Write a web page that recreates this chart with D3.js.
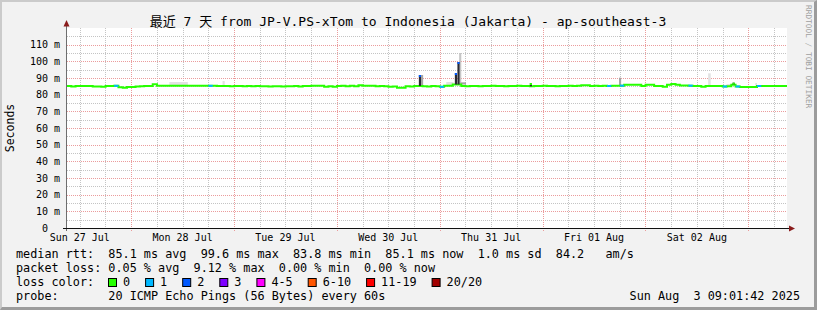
<!DOCTYPE html>
<html>
<head>
<meta charset="utf-8">
<script src="https://cdn.jsdelivr.net/npm/d3@7"></script>
<style>
  body { margin: 0; background: #fff; }
  svg text { font-family: "DejaVu Sans Mono", "Noto Sans CJK SC", monospace; }
</style>
</head>
<body>
<svg id="chart" width="817" height="310"></svg>
<script>
// --- data ------------------------------------------------------------
var startTime = Date.UTC(2025, 6, 27, 9, 1, 42);   // one week before the stamp
var endTime = Date.UTC(2025, 7, 3, 9, 1, 42);

// hourly median rtt (ms), hour 0 .. 168
var medianRtt = [
  85.2, 84.9, 85.2, 85.2, 85.2, 85.2, 84.9, 84.9, 84.7, 85.2,
  85.2, 85.3, 84.4, 84.2, 84.6, 84.6, 84.9, 85.0, 85.2, 85.2,
  86.2, 85.3, 85.3, 85.3, 85.4, 85.4, 85.4, 85.4, 85.4, 85.4,
  85.4, 85.3, 85.3, 85.3, 85.3, 85.2, 85.2, 85.2, 85.1, 85.2,
  85.2, 85.1, 85.2, 85.1, 85.2, 85.0, 85.0, 84.9, 85.0, 85.0,
  84.9, 85.0, 85.0, 85.2, 84.9, 85.2, 85.2, 85.3, 85.3, 85.3,
  84.7, 85.0, 84.7, 85.2, 85.3, 85.0, 85.3, 85.0, 85.7, 85.3,
  85.3, 85.3, 85.0, 85.2, 85.0, 84.7, 84.9, 84.2, 84.2, 85.0,
  84.9, 85.2, 85.2, 85.0, 84.9, 85.2, 85.0, 84.7, 85.3, 85.3,
  86.1, 86.1, 85.2, 85.0, 85.2, 85.2, 85.1, 85.2, 85.2, 85.3,
  85.2, 85.2, 85.1, 85.2, 85.2, 85.3, 85.2, 85.2, 85.0, 85.2,
  85.2, 85.3, 85.2, 85.2, 85.1, 85.2, 85.2, 85.3, 85.2, 85.4,
  85.6, 85.6, 85.2, 85.3, 85.2, 85.3, 85.2, 85.4, 85.4, 85.4,
  86.0, 86.0, 86.0, 86.0, 85.2, 86.0, 86.0, 85.2, 85.2, 84.7,
  86.0, 86.4, 86.0, 85.5, 85.5, 85.4, 85.2, 85.2, 84.8, 85.2,
  85.2, 85.2, 85.2, 84.9, 85.0, 86.0, 84.9, 84.6, 84.6, 84.6,
  84.6, 85.2, 85.2, 85.2, 85.2, 85.2, 85.2, 85.2, 85.2
];

// hours where pings were lost, and how many of 20
var lossHour = [11, 33, 87, 126, 129, 145, 153, 156, 161];
var lossCount = [1, 1, 1, 1, 1, 1, 1, 1, 1];

// short bursts above the median (hour, top ms, lost pings)
var spikeHour = [82.1, 90.5, 91.1, 108.0, 155.3];
var spikeTop = [91.8, 93.0, 99.6, 87.0, 87.2];
var spikeLoss = [2, 2, 2, 0, 0];

// smoke: spread of the pings above the median
var smokeFrom = [23.9, 36.3, 82.5, 88.5, 91.5, 91.8, 128.8, 149.6, 153.9, 160.6];
var smokeTo = [28.2, 36.8, 83.1, 90.2, 92.0, 93.1, 129.3, 150.2, 155.0, 161.0];
var smokeTop = [87.6, 88.2, 91.8, 87.6, 105.0, 87.4, 90.2, 92.8, 86.4, 87.0];
var smokeLevel = [1, 1, 3, 1, 2, 3, 3, 1, 1, 1];

var lossLabels = ["0", "1", "2", "3", "4-5", "6-10", "11-19", "20/20"];
var lossColors = ["#26ff00", "#00b8ff", "#0059ff", "#7e00ff", "#ff00ff", "#ff5500", "#ff0000", "#a10000"];

var legendLines = [
  "median rtt:  85.1 ms avg  99.6 ms max  83.8 ms min  85.1 ms now  1.0 ms sd  84.2   am/s",
  "packet loss: 0.05 % avg  9.12 % max  0.00 % min  0.00 % now",
  "loss color:",
  "probe:       20 ICMP Echo Pings (56 Bytes) every 60s"
];
var titleText = "最近 7 天 from JP-V.PS-xTom to Indonesia (Jakarta) - ap-southeast-3";
var stampText = "Sun Aug  3 09:01:42 2025";

// --- layout ----------------------------------------------------------
var svg = d3.select("#chart");
var plotL = 67, plotR = 787, plotT = 28, plotB = 228;
var hourMs = 3600 * 1000;
function t(h) { return new Date(startTime + h * hourMs); }

var x = d3.scaleUtc().domain([new Date(startTime), new Date(endTime)]).range([plotL, plotR]);
var y = d3.scaleLinear().domain([0, 120]).range([plotB, plotT]);

// background + frame shading
svg.append("rect").attr("width", 817).attr("height", 310).attr("fill", "#f2f2f2");
svg.append("path").attr("d", "M0,0H817V310H0Z M2,2V307H814V2Z")
  .attr("fill", "#cbcbcb").attr("fill-rule", "evenodd");
svg.append("path").attr("d", "M817,0V310H0L2,307H814V2Z").attr("fill", "#9c9c9c");
svg.append("rect").attr("x", plotL).attr("y", plotT)
  .attr("width", plotR - plotL).attr("height", plotB - plotT).attr("fill", "#fff");

// grid
var g = svg.append("g");
var minorX = d3.utcHour.every(6).range(new Date(startTime), new Date(endTime))
  .filter(function(d) { return d.getUTCHours() !== 0; });
var majorX = d3.utcDay.range(new Date(startTime), new Date(endTime));

g.selectAll(".vminor").data(minorX).enter().append("line")
  .attr("x1", function(d) { return Math.round(x(d)) + 0.5; })
  .attr("x2", function(d) { return Math.round(x(d)) + 0.5; })
  .attr("y1", plotT).attr("y2", plotB)
  .attr("stroke", "#c4c4c4").style("stroke-dasharray", "1,1");

var yTicks = y.ticks(24).filter(function(v) { return v > 0 && v < 120; });
g.selectAll(".hgrid").data(yTicks).enter().append("line")
  .attr("x1", plotL).attr("x2", plotR)
  .attr("y1", function(d) { return Math.round(y(d)) + 0.5; })
  .attr("y2", function(d) { return Math.round(y(d)) + 0.5; })
  .attr("stroke", function(d) { return d % 10 === 0 ? "#eb9c9c" : "#c4c4c4"; })
  .style("stroke-dasharray", "1,1");

g.selectAll(".vmajor").data(majorX).enter().append("line")
  .attr("x1", function(d) { return Math.round(x(d)) + 0.5; })
  .attr("x2", function(d) { return Math.round(x(d)) + 0.5; })
  .attr("y1", plotT).attr("y2", plotB + 3)
  .attr("stroke", "#eb9c9c").style("stroke-dasharray", "1,1");

// smoke
var smokeShade = { 1: "#e2e2e2", 2: "#c6c6c6", 3: "#a4a4a4" };
function medianAt(h) { return medianRtt[Math.min(medianRtt.length - 1, Math.floor(h))]; }
svg.selectAll(".smoke").data(smokeFrom).enter().append("rect")
  .attr("x", function(d) { return x(t(d)); })
  .attr("width", function(d, i) { return x(t(smokeTo[i])) - x(t(d)); })
  .attr("y", function(d, i) { return y(smokeTop[i]); })
  .attr("height", function(d, i) { return y(medianAt(d)) - y(smokeTop[i]); })
  .attr("fill", function(d, i) { return smokeShade[smokeLevel[i]]; });

// median line, green where nothing was lost
var pts = medianRtt.map(function(v, i) { return { t: t(i), v: v }; });
var line = d3.line()
  .x(function(d) { return x(d.t); })
  .y(function(d) { return y(d.v); })
  .curve(d3.curveStepAfter);
svg.append("path").datum(pts).attr("d", line)
  .attr("fill", "none").attr("stroke", lossColors[0]).attr("stroke-width", 2);

function lossColor(n) {
  if (n <= 3) return lossColors[n];
  if (n <= 5) return lossColors[4];
  if (n <= 10) return lossColors[5];
  if (n <= 19) return lossColors[6];
  return lossColors[7];
}
svg.selectAll(".loss").data(lossHour).enter().append("line")
  .attr("x1", function(d) { return x(t(d)); })
  .attr("x2", function(d) { return x(t(d + 1)); })
  .attr("y1", function(d) { return y(medianRtt[d]); })
  .attr("y2", function(d) { return y(medianRtt[d]); })
  .attr("stroke", function(d, i) { return lossColor(lossCount[i]); })
  .attr("stroke-width", 2);

// spikes
var spikeStep = 0.5;
var sp = svg.selectAll(".spike").data(spikeHour).enter().append("g");
sp.append("rect")
  .attr("x", function(d) { return x(t(d)); })
  .attr("width", function(d) { return x(t(d + spikeStep)) - x(t(d)); })
  .attr("y", function(d, i) { return y(spikeTop[i]); })
  .attr("height", function(d, i) { return y(medianAt(d)) - y(spikeTop[i]); })
  .attr("fill", "#2b2b33");
sp.append("rect")
  .attr("x", function(d) { return x(t(d)); })
  .attr("width", function(d) { return x(t(d + spikeStep)) - x(t(d)); })
  .attr("y", function(d, i) { return y(spikeTop[i]); })
  .attr("height", 2)
  .attr("fill", function(d, i) { return lossColor(spikeLoss[i]); });

// axes
svg.append("line").attr("x1", plotL - 0.5).attr("x2", plotL - 0.5)
  .attr("y1", plotB + 3).attr("y2", plotT - 4).attr("stroke", "#6e6e6e");
svg.append("path").attr("d", "M" + (plotL - 0.5) + ",20L" + (plotL - 3.5) + ",26.5H" + (plotL + 2.5) + "Z")
  .attr("fill", "#8a1c1c");
svg.append("line").attr("x1", plotL - 4).attr("x2", plotR + 3)
  .attr("y1", plotB + 0.5).attr("y2", plotB + 0.5).attr("stroke", "#111");
svg.append("path").attr("d", "M" + (plotR + 8) + "," + (plotB + 0.5) + "L" + (plotR + 2) + "," + (plotB - 2.5) + "V" + (plotB + 3.5) + "Z")
  .attr("fill", "#8a1c1c");

// y labels
var yLabels = y.ticks(12).filter(function(v) { return v < 120; });
svg.selectAll(".ylab").data(yLabels).enter().append("text")
  .attr("x", 60).attr("y", function(d) { return y(d) + 3.5; })
  .attr("text-anchor", "end").attr("xml:space", "preserve")
  .style("white-space", "pre")
  .attr("font-size", 10)
  .text(function(d) { return d === 0 ? "0  " : d + " m"; });

// x labels at noon
var noons = majorX.concat([d3.utcDay.floor(new Date(startTime))])
  .map(function(d) { return d3.utcHour.offset(d, 12); })
  .filter(function(d) { return d >= new Date(startTime) && d <= new Date(endTime); });
svg.selectAll(".xlab").data(noons).enter().append("text")
  .attr("x", function(d) { return x(d); }).attr("y", 241)
  .attr("text-anchor", "middle").attr("font-size", 10)
  .text(function(d) { return d3.utcFormat("%a %d %b")(d); });

// title, axis title, watermark
svg.append("text").attr("x", 408).attr("y", 26).attr("text-anchor", "middle")
  .attr("font-size", 13).text(titleText);
svg.append("text").attr("transform", "translate(14,128) rotate(-90)")
  .attr("text-anchor", "middle").attr("font-size", 11.5).text("Seconds");
svg.append("text").attr("transform", "translate(805.5,5) rotate(90)")
  .attr("font-size", 7.8).attr("fill", "#a0a0a0").text("RRDTOOL / TOBI OETIKER");

// legend
var charW = 7.1;
svg.selectAll(".leg").data(legendLines).enter().append("text")
  .attr("x", 16).attr("y", function(d, i) { return 258 + i * 14; })
  .attr("xml:space", "preserve").style("white-space", "pre")
  .attr("font-size", 11.8)
  .text(function(d) { return d; });

var sx = 108, swatchX = [];
lossLabels.forEach(function(l) { swatchX.push(sx); sx += 15 + l.length * charW + 15; });
var sw = svg.selectAll(".sw").data(lossLabels).enter().append("g");
sw.append("rect")
  .attr("x", function(d, i) { return swatchX[i] + 0.5; }).attr("y", 278.5)
  .attr("width", 8).attr("height", 8)
  .attr("fill", function(d, i) { return lossColors[i]; }).attr("stroke", "#000");
sw.append("text")
  .attr("x", function(d, i) { return swatchX[i] + 15; }).attr("y", 286)
  .attr("font-size", 11.8).text(function(d) { return d; });

svg.append("text").attr("x", 800).attr("y", 300).attr("text-anchor", "end")
  .attr("xml:space", "preserve").style("white-space", "pre")
  .attr("font-size", 11.8).text(stampText);
</script>
</body>
</html>
